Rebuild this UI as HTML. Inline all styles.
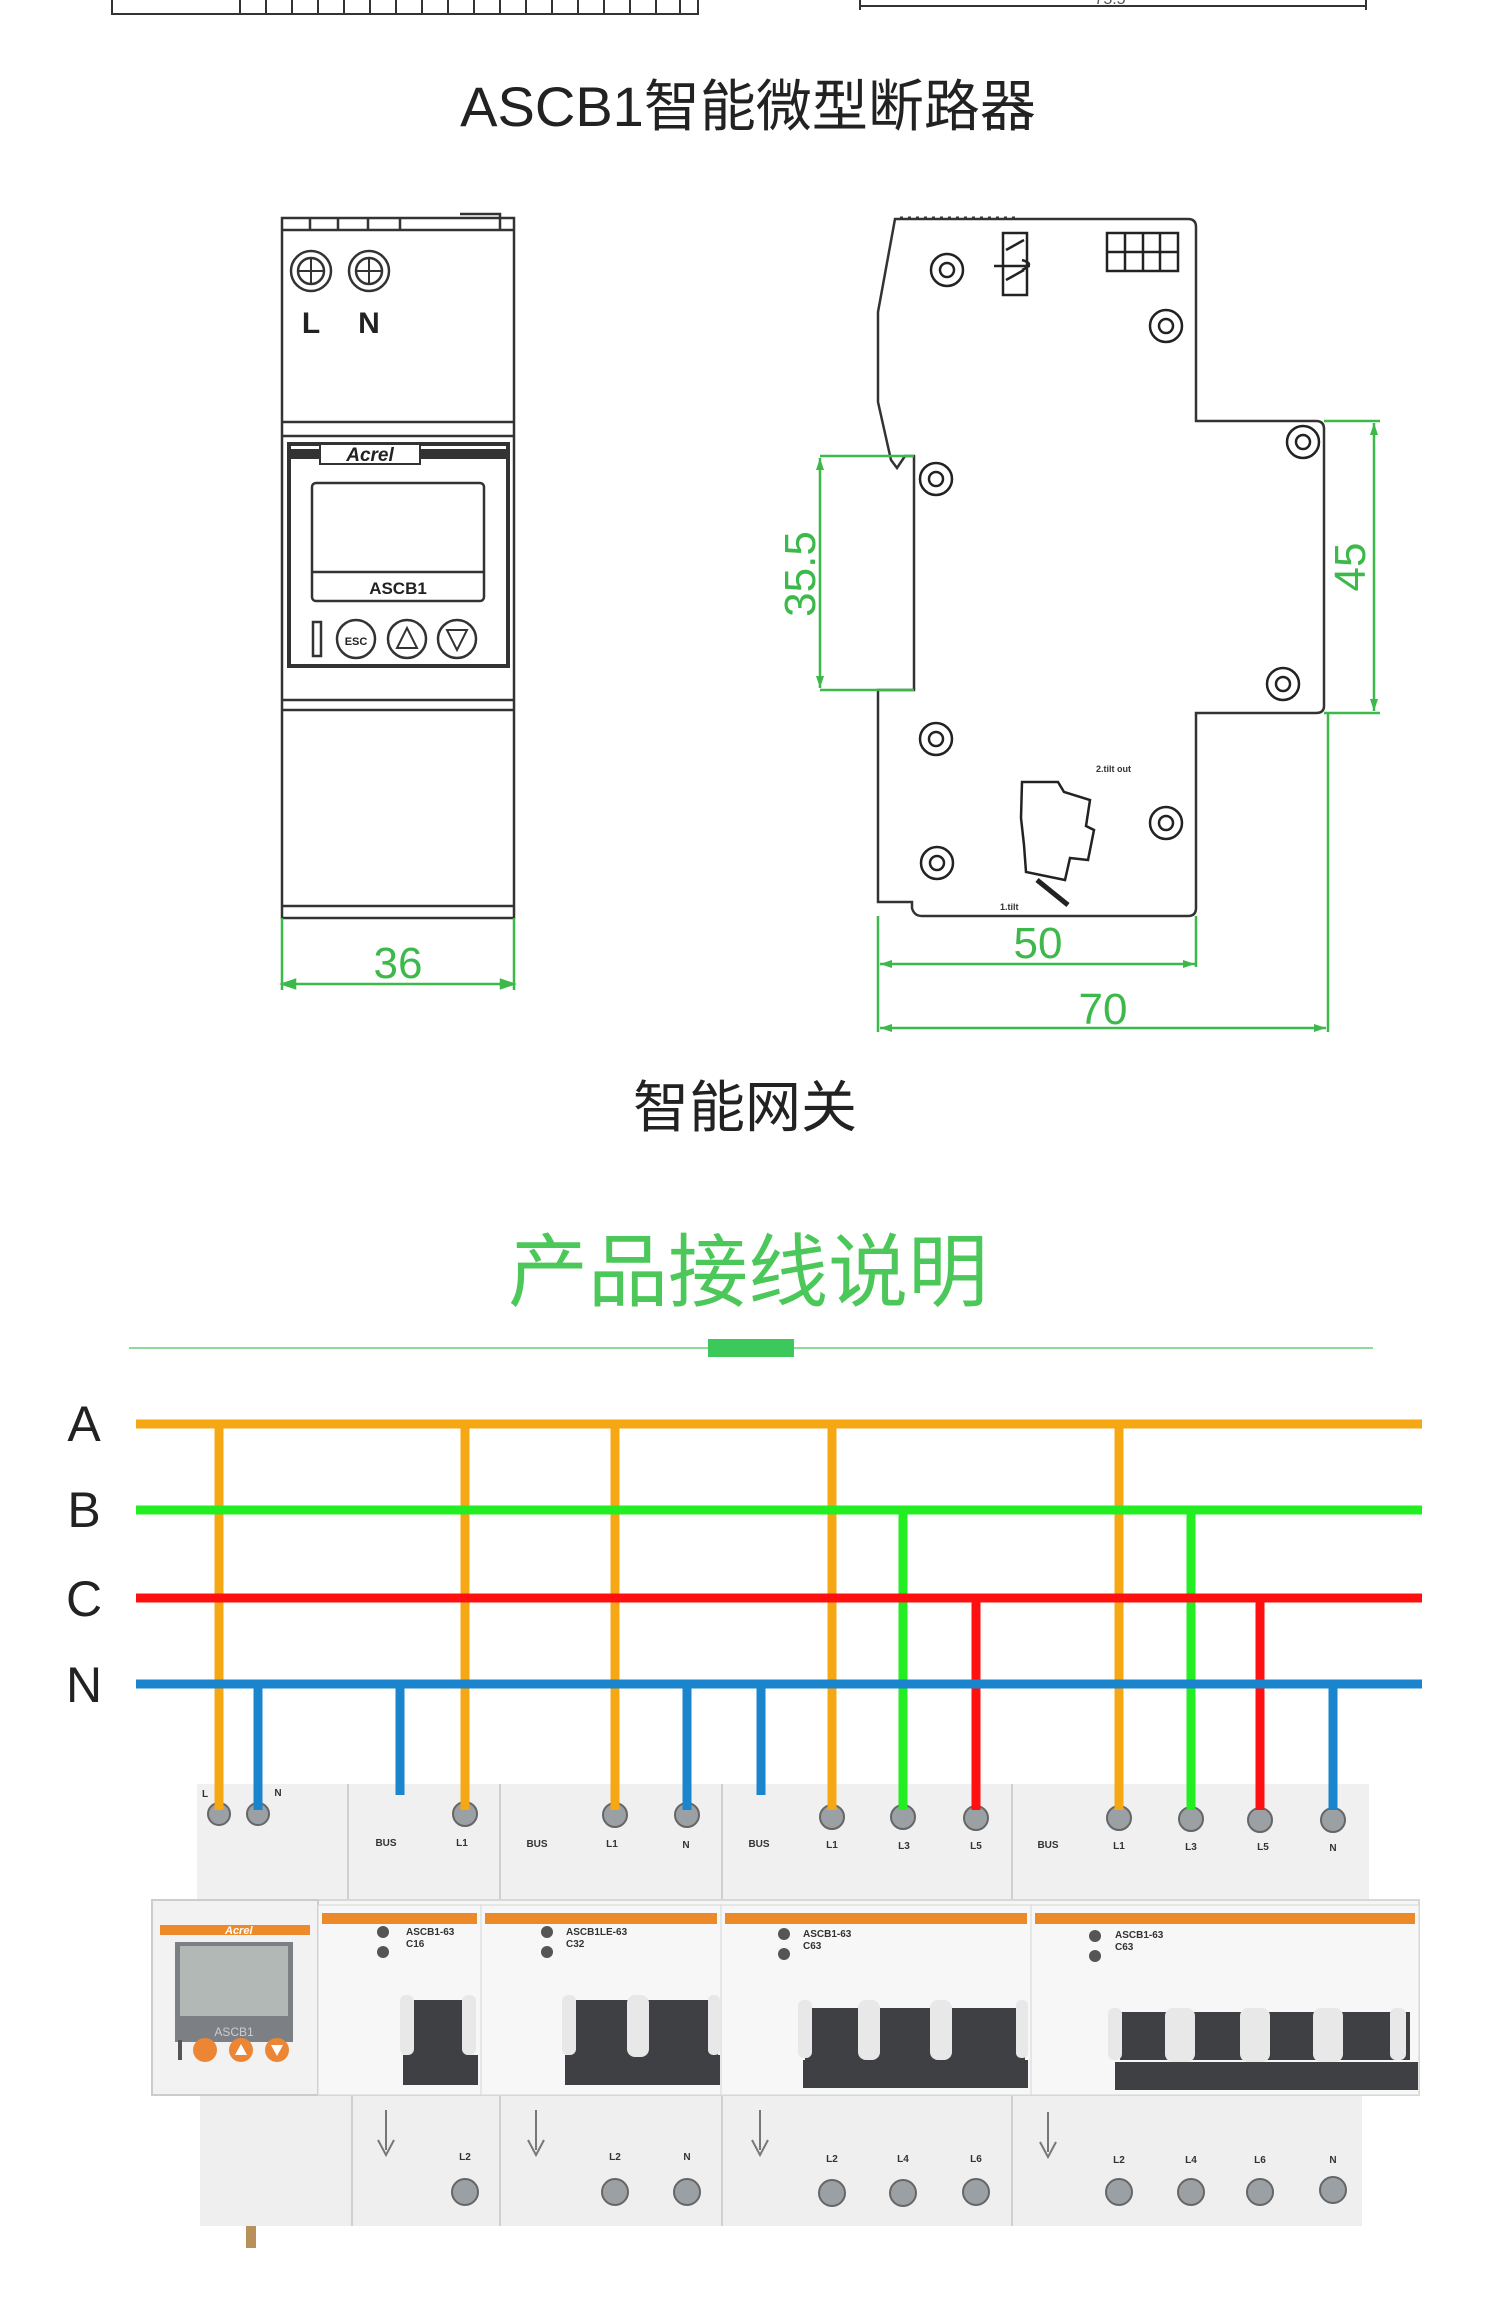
<!DOCTYPE html>
<html><head><meta charset="utf-8"><style>
html,body{margin:0;padding:0;background:#fff}
svg{display:block}
text{font-family:"Liberation Sans","Noto Sans CJK SC",sans-serif}
</style></head><body>
<svg width="1500" height="2322" viewBox="0 0 1500 2322" xmlns="http://www.w3.org/2000/svg">
<rect width="1500" height="2322" fill="#fff"/>
<!-- top partial -->
<g stroke="#333" stroke-width="2" fill="none">
<path d="M112 0 V14 H698 V0"/>
<path d="M240 0V14M266 0V14M292 0V14M318 0V14M344 0V14M370 0V14M396 0V14M422 0V14M448 0V14M474 0V14M500 0V14M526 0V14M552 0V14M578 0V14M604 0V14M630 0V14M656 0V14M680 0V14"/>
<path d="M860 6H1366M860 0V10M1366 0V10"/>
</g>
<text x="1110" y="4" font-size="16" fill="#555" text-anchor="middle">75.5</text>
<text x="748" y="126" font-size="56" fill="#222" text-anchor="middle">ASCB1智能微型断路器</text>

<!-- left device -->
<g stroke="#333" stroke-width="2.5" fill="#fff">
<rect x="282" y="218" width="232" height="700"/>
<path d="M282 230H514M310 218V230M338 218V230M368 218V230M400 218V230M460 214H500V230" fill="none"/>
<circle cx="311" cy="271" r="20"/><circle cx="311" cy="271" r="13"/>
<circle cx="369" cy="271" r="20"/><circle cx="369" cy="271" r="13"/>
<path d="M298 271H324M311 258V284M356 271H382M369 258V284" fill="none" stroke-width="2"/>
<path d="M282 422H514M282 436H514M282 700H514M282 710H514M282 906H514" fill="none"/>
<rect x="289" y="444" width="219" height="222" stroke-width="4"/>
<path d="M291 454H506" stroke-width="10"/>
<rect x="312" y="483" width="172" height="118" rx="4"/>
<path d="M312 572H484" fill="none"/>
<rect x="313" y="622" width="8" height="34" />
<circle cx="356" cy="639" r="19"/><circle cx="407" cy="639" r="19"/><circle cx="457" cy="639" r="19"/>
<path d="M397 648L407 628L417 648Z M447 630L457 650L467 630Z" fill="none" stroke-width="2"/>
</g>
<rect x="320" y="444" width="100" height="20" fill="#fff" stroke="#333" stroke-width="2"/>
<text x="370" y="461" font-size="19" font-weight="bold" font-style="italic" fill="#222" text-anchor="middle">Acrel</text>
<text x="398" y="594" font-size="17" font-weight="bold" fill="#222" text-anchor="middle">ASCB1</text>
<text x="311" y="333" font-size="30" font-weight="bold" fill="#222" text-anchor="middle">L</text>
<text x="369" y="333" font-size="30" font-weight="bold" fill="#222" text-anchor="middle">N</text>
<text x="356" y="645" font-size="11" font-weight="bold" fill="#222" text-anchor="middle">ESC</text>
<!-- dim 36 -->
<g stroke="#3cb94a" stroke-width="2.5" fill="#3cb94a">
<path d="M282 918V990M514 918V990M283 984H513" fill="none"/>
<path d="M283 984l12 -4v8z M513 984l-12 -4v8z"/>
</g>
<text x="398" y="978" font-size="44" fill="#3cb94a" text-anchor="middle">36</text>

<!-- right device -->
<g stroke="#333" stroke-width="2.5" fill="#fff">
<path d="M895 219 H1188 Q1196 219 1196 227 V421 H1316 Q1324 421 1324 429 V706 Q1324 713 1316 713 H1196 V908 Q1196 916 1188 916 H922 Q914 916 912 908 V902 H878 V690 H914 V456 H905 L897 468 L891 460 L878 402 V312 Z"/>
</g>
<path d="M900 218H1020" stroke="#333" stroke-width="3" stroke-dasharray="3 5"/>
<g stroke="#222" stroke-width="2.5" fill="none">
<circle cx="947" cy="270" r="16"/><circle cx="947" cy="270" r="7"/>
<circle cx="1166" cy="326" r="16"/><circle cx="1166" cy="326" r="7"/>
<circle cx="936" cy="479" r="16"/><circle cx="936" cy="479" r="7"/>
<circle cx="1303" cy="442" r="16"/><circle cx="1303" cy="442" r="7"/>
<circle cx="1283" cy="684" r="16"/><circle cx="1283" cy="684" r="7"/>
<circle cx="936" cy="739" r="16"/><circle cx="936" cy="739" r="7"/>
<circle cx="1166" cy="823" r="16"/><circle cx="1166" cy="823" r="7"/>
<circle cx="937" cy="863" r="16"/><circle cx="937" cy="863" r="7"/>
<rect x="1003" y="233" width="24" height="62"/>
<path d="M994 266H1030M1022 260q14 4 0 10M1006 250L1024 240M1006 280L1024 270"/>
<rect x="1107" y="233" width="71" height="38"/>
<path d="M1125 233V271M1143 233V271M1160 233V271M1107 252H1178"/>
<path d="M1022 782H1058L1064 792L1090 800L1086 826L1094 830L1088 860L1070 858L1065 880L1026 872L1024 845L1021 818Z"/>
<path d="M1037 880L1068 905" stroke-width="5"/>
</g>
<text x="1096" y="772" font-size="9" fill="#333" font-weight="bold">2.tilt out</text>
<text x="1000" y="910" font-size="9" fill="#333" font-weight="bold">1.tilt</text>
<!-- right dims -->
<g stroke="#3cb94a" stroke-width="2.5" fill="none">
<path d="M820 456H914M820 690H914M820 458V688"/>
<path d="M1324 421H1380M1324 713H1380M1374 423V711"/>
<path d="M878 916V1032M1196 916V967M1328 713V1032M880 964H1195M880 1028H1326"/>
</g>
<g fill="#3cb94a">
<path d="M820 458l-4 12h8z M820 688l-4 -12h8z M1374 423l-4 12h8z M1374 711l-4 -12h8z M880 964l12 -4v8z M1195 964l-12 -4v8z M880 1028l12 -4v8z M1326 1028l-12 -4v8z"/>
</g>
<text transform="translate(815,574) rotate(-90)" font-size="44" fill="#3cb94a" text-anchor="middle">35.5</text>
<text transform="translate(1365,567) rotate(-90)" font-size="44" fill="#3cb94a" text-anchor="middle">45</text>
<text x="1038" y="958" font-size="44" fill="#3cb94a" text-anchor="middle">50</text>
<text x="1103" y="1024" font-size="44" fill="#3cb94a" text-anchor="middle">70</text>

<text x="745" y="1127" font-size="56" fill="#222" text-anchor="middle">智能网关</text>
<text x="748" y="1300" font-size="80" fill="#4cc85a" text-anchor="middle">产品接线说明</text>
<path d="M129 1348H1373" stroke="#8fd99a" stroke-width="2"/>
<rect x="708" y="1339" width="86" height="18" fill="#3cc85a"/>

<!-- device photo -->
<rect x="197" y="1784" width="1172" height="122" fill="#f0f0f0"/>
<path d="M348 1784V1905M500 1784V1905M722 1784V1905M1012 1784V1905" stroke="#d0d0d0" stroke-width="2"/>
<rect x="200" y="2094" width="1162" height="132" fill="#efefef"/>
<path d="M352 2094V2226M500 2094V2226M722 2094V2226M1012 2094V2226" stroke="#d0d0d0" stroke-width="2"/>
<rect x="246" y="2226" width="10" height="22" fill="#b8905a"/>
<rect x="152" y="1900" width="1267" height="195" fill="#f6f6f6" stroke="#d8d8d8" stroke-width="2"/>
<!-- meter -->
<rect x="152" y="1900" width="166" height="195" fill="#f2f2f2" stroke="#ccc" stroke-width="2"/>
<rect x="160" y="1925" width="150" height="10" fill="#ee8a2a"/>
<text x="225" y="1934" font-size="11" fill="#fff" font-style="italic" font-weight="bold">Acrel</text>
<rect x="175" y="1942" width="118" height="100" fill="#7c8085"/>
<rect x="180" y="1946" width="108" height="70" fill="#b2b8b5"/>
<text x="234" y="2036" font-size="12" fill="#ccc" text-anchor="middle">ASCB1</text>
<rect x="178" y="2040" width="4" height="20" fill="#555"/>
<circle cx="205" cy="2050" r="12" fill="#ec8634"/><circle cx="241" cy="2050" r="12" fill="#ec8634"/><circle cx="277" cy="2050" r="12" fill="#ec8634"/>
<path d="M235 2055L241 2044L247 2055ZM271 2045L277 2056L283 2045Z" fill="#fff"/>
<!-- modules -->
<g>
<rect x="318" y="1905" width="163" height="190" fill="#f7f7f7" stroke="#d6d6d6"/>
<rect x="481" y="1905" width="240" height="190" fill="#f7f7f7" stroke="#d6d6d6"/>
<rect x="721" y="1905" width="310" height="190" fill="#f7f7f7" stroke="#d6d6d6"/>
<rect x="1031" y="1905" width="388" height="190" fill="#f7f7f7" stroke="#d6d6d6"/>
<g fill="#ec8a2a">
<rect x="322" y="1913" width="155" height="11"/><rect x="485" y="1913" width="232" height="11"/>
<rect x="725" y="1913" width="302" height="11"/><rect x="1035" y="1913" width="380" height="11"/>
</g>
<g font-size="10" fill="#333" font-weight="bold">
<text x="406" y="1935">ASCB1-63</text><text x="406" y="1947">C16</text>
<text x="566" y="1935">ASCB1LE-63</text><text x="566" y="1947">C32</text>
<text x="803" y="1937">ASCB1-63</text><text x="803" y="1949">C63</text>
<text x="1115" y="1938">ASCB1-63</text><text x="1115" y="1950">C63</text>
</g>
<g fill="#555">
<circle cx="383" cy="1932" r="6"/><circle cx="383" cy="1952" r="6"/>
<circle cx="547" cy="1932" r="6"/><circle cx="547" cy="1952" r="6"/>
<circle cx="784" cy="1934" r="6"/><circle cx="784" cy="1954" r="6"/>
<circle cx="1095" cy="1936" r="6"/><circle cx="1095" cy="1956" r="6"/>
</g>
<!-- handles -->
<g fill="#3e4044">
<rect x="408" y="2000" width="60" height="55"/><rect x="403" y="2055" width="75" height="30"/>
<rect x="568" y="2000" width="150" height="55"/><rect x="565" y="2055" width="155" height="30"/>
<rect x="805" y="2008" width="220" height="52"/><rect x="803" y="2060" width="225" height="28"/>
<rect x="1120" y="2012" width="290" height="48"/><rect x="1115" y="2062" width="303" height="28"/>
</g>
<g fill="#e8e8e8">
<rect x="400" y="1995" width="14" height="60" rx="6"/><rect x="462" y="1995" width="14" height="60" rx="6"/>
<rect x="562" y="1995" width="14" height="60" rx="6"/><rect x="627" y="1995" width="22" height="62" rx="8"/><rect x="708" y="1995" width="12" height="60" rx="5"/>
<rect x="798" y="2000" width="14" height="58" rx="6"/><rect x="858" y="2000" width="22" height="60" rx="8"/><rect x="930" y="2000" width="22" height="60" rx="8"/><rect x="1016" y="2000" width="12" height="58" rx="5"/>
<rect x="1108" y="2008" width="14" height="52" rx="6"/><rect x="1165" y="2008" width="30" height="54" rx="8"/><rect x="1240" y="2008" width="30" height="54" rx="8"/><rect x="1313" y="2008" width="30" height="54" rx="8"/><rect x="1390" y="2008" width="16" height="52" rx="6"/>
</g>
</g>
<!-- top labels -->
<g font-size="10" fill="#333" font-weight="bold" text-anchor="middle">
<text x="205" y="1797">L</text><text x="278" y="1796">N</text>
<text x="386" y="1846">BUS</text><text x="462" y="1846">L1</text>
<text x="537" y="1847">BUS</text><text x="612" y="1847">L1</text><text x="686" y="1848">N</text>
<text x="759" y="1847">BUS</text><text x="832" y="1848">L1</text><text x="904" y="1849">L3</text><text x="976" y="1849">L5</text>
<text x="1048" y="1848">BUS</text><text x="1119" y="1849">L1</text><text x="1191" y="1850">L3</text><text x="1263" y="1850">L5</text><text x="1333" y="1851">N</text>
<text x="465" y="2160">L2</text><text x="615" y="2160">L2</text><text x="687" y="2160">N</text>
<text x="832" y="2162">L2</text><text x="903" y="2162">L4</text><text x="976" y="2162">L6</text>
<text x="1119" y="2163">L2</text><text x="1191" y="2163">L4</text><text x="1260" y="2163">L6</text><text x="1333" y="2163">N</text>
</g>
<g stroke="#777" stroke-width="2" fill="none">
<path d="M386 2110V2150M378 2140L386 2155L394 2140M536 2110V2150M528 2140L536 2155L544 2140M760 2110V2150M752 2140L760 2155L768 2140M1048 2112V2152M1040 2142L1048 2157L1056 2142"/>
</g>
<!-- screws -->
<g fill="#9aa0a4" stroke="#666" stroke-width="2">
<circle cx="219" cy="1814" r="11"/><circle cx="258" cy="1814" r="11"/>
<circle cx="465" cy="1814" r="12"/><circle cx="615" cy="1815" r="12"/><circle cx="687" cy="1815" r="12"/>
<circle cx="832" cy="1817" r="12"/><circle cx="903" cy="1817" r="12"/><circle cx="976" cy="1818" r="12"/>
<circle cx="1119" cy="1818" r="12"/><circle cx="1191" cy="1819" r="12"/><circle cx="1260" cy="1820" r="12"/><circle cx="1333" cy="1820" r="12"/>
<circle cx="465" cy="2192" r="13"/><circle cx="615" cy="2192" r="13"/><circle cx="687" cy="2192" r="13"/>
<circle cx="832" cy="2193" r="13"/><circle cx="903" cy="2193" r="13"/><circle cx="976" cy="2192" r="13"/>
<circle cx="1119" cy="2192" r="13"/><circle cx="1191" cy="2192" r="13"/><circle cx="1260" cy="2192" r="13"/><circle cx="1333" cy="2190" r="13"/>
</g>

<!-- wiring -->
<g stroke-width="9" fill="none">
<path stroke="#f5a814" d="M219 1424V1810M465 1424V1810M615 1424V1810M832 1424V1810M1119 1424V1810"/>
<path stroke="#1a84cc" d="M258 1684V1810M400 1684V1795M687 1684V1810M761 1684V1795M1333 1684V1810"/>
<path stroke="#22ee22" d="M903 1510V1810M1191 1510V1810"/>
<path stroke="#ff1010" d="M976 1598V1810M1260 1598V1810"/>
<path stroke="#f5a814" d="M136 1424H1422"/>
<path stroke="#22ee22" d="M136 1510H1422"/>
<path stroke="#ff1010" d="M136 1598H1422"/>
<path stroke="#1a84cc" d="M136 1684H1422"/>
</g>
<g font-size="50" fill="#222" text-anchor="middle">
<text x="84" y="1441">A</text><text x="84" y="1527">B</text><text x="84" y="1616">C</text><text x="84" y="1702">N</text>
</g>
</svg>
</body></html>
